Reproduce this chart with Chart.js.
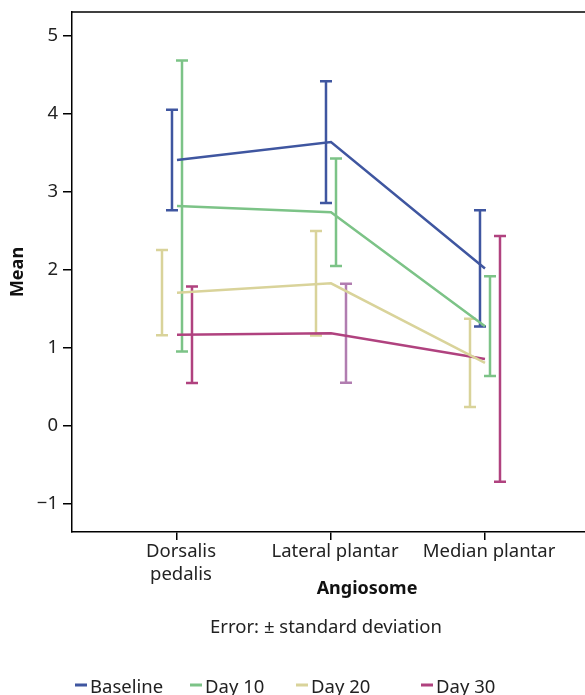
<!DOCTYPE html>
<html lang="en">
<head>
  <meta charset="UTF-8">
  <title>Mean by angiosome</title>
  <script src="https://cdn.jsdelivr.net/npm/chart.js"></script>
  <style>
    body { margin: 0; background: #fff; }
    #wrap { position: relative; width: 585px; height: 695px; overflow: hidden; font-family: "Noto Sans", sans-serif; color: #222; }
    #grafico { position: absolute; left: 0; top: 0; }
    #nota { position: absolute; left: 326px; top: 625px; transform: translate(-50%, -50%); font-size: 18.5px; white-space: nowrap; }
    .leg { position: absolute; top: 685px; transform: translateY(-50%); font-size: 18.5px; white-space: nowrap; display: flex; align-items: center; }
    .leg span.mk { display: inline-block; width: 12px; height: 3px; margin-right: 3px; }
  </style>
</head>
<body>
  <div id="wrap">
    <!-- o quadro do grafico original passa da borda direita, por isso o canvas e mais largo -->
    <canvas id="grafico" width="662" height="695"></canvas>
    <div id="nota">Error: ± standard deviation</div>
  </div>

<script>
  // dados
  const categorias = [['Dorsalis', 'pedalis'], 'Lateral plantar', 'Median plantar'];
  const series = ['Baseline', 'Day 10', 'Day 20', 'Day 30'];
  const cores = ['#3f56a0', '#7cc387', '#d9d39a', '#b0427f'];

  const mediaBaseline = [3.41, 3.64, 2.02];
  const mediaDay10 = [2.82, 2.74, 1.28];
  const mediaDay20 = [1.71, 1.83, 0.81];
  const mediaDay30 = [1.17, 1.19, 0.86];

  const dpBaseline = [0.645, 0.78, 0.745];
  const dpDay10 = [1.865, 0.69, 0.64];
  const dpDay20 = [0.545, 0.67, 0.565];
  const dpDay30 = [0.62, 0.635, 1.575];

  const yTicks = [-1, 0, 1, 2, 3, 4, 5];

  const medias = [mediaBaseline, mediaDay10, mediaDay20, mediaDay30];
  const desvios = [dpBaseline, dpDay10, dpDay20, dpDay30];

  // no original a barra do Day 30 em Lateral plantar sai mais clara
  const corBarraEspecial = { serie: 3, cat: 1, cor: '#b17db0' };

  // deslocamento horizontal das barras de erro (em unidades do eixo x)
  const deslocBarras = [-0.0325, 0.0325, -0.0974, 0.0974];
  const legendaX = [75, 190, 296, 421];

  const datasets = series.map((nome, i) => ({
    label: nome,
    data: medias[i].map((v, j) => ({ x: j + 1, y: v })),
    borderColor: cores[i],
    backgroundColor: cores[i],
    borderWidth: 2.5,
    pointRadius: 0,
    showLine: true,
    tension: 0,
    fill: false
  }));

  const barrasErro = {
    id: 'barrasErro',
    beforeDatasetsDraw(chart) {
      const ctx = chart.ctx;
      const xs = chart.scales.x;
      const ys = chart.scales.y;
      ctx.save();
      ctx.lineWidth = 2.5;
      for (let i = 0; i < series.length; i++) {
        for (let j = 0; j < categorias.length; j++) {
          const especial = corBarraEspecial.serie === i && corBarraEspecial.cat === j;
          ctx.strokeStyle = especial ? corBarraEspecial.cor : cores[i];
          const px = xs.getPixelForValue(j + 1 + deslocBarras[i]);
          const topo = ys.getPixelForValue(medias[i][j] + desvios[i][j]);
          const base = ys.getPixelForValue(medias[i][j] - desvios[i][j]);
          ctx.beginPath();
          ctx.moveTo(px, topo);
          ctx.lineTo(px, base);
          ctx.moveTo(px - 6, topo);
          ctx.lineTo(px + 6, topo);
          ctx.moveTo(px - 6, base);
          ctx.lineTo(px + 6, base);
          ctx.stroke();
        }
      }
      ctx.restore();
    },
    afterDraw(chart) {
      // linha superior da moldura
      const ctx = chart.ctx;
      const a = chart.chartArea;
      ctx.save();
      ctx.strokeStyle = '#000';
      ctx.lineWidth = 1.5;
      ctx.beginPath();
      ctx.moveTo(a.left, a.top);
      ctx.lineTo(a.right, a.top);
      ctx.stroke();
      ctx.restore();
    }
  };

  Chart.defaults.font.family = '"Noto Sans", sans-serif';
  Chart.defaults.color = '#222';

  const grafico = new Chart(document.getElementById('grafico').getContext('2d'), {
    type: 'scatter',
    data: { datasets: datasets },
    options: {
      responsive: false,
      animation: false,
      layout: { padding: { top: 12, right: 0, bottom: 95, left: 0 } },
      plugins: {
        legend: { display: false },
        tooltip: { enabled: false }
      },
      scales: {
        x: {
          type: 'linear',
          min: 0.3182,
          max: 4.1494,
          afterBuildTicks: s => { s.ticks = categorias.map((c, j) => ({ value: j + 1 })); },
          afterFit: s => { s.height = 68; s.paddingLeft = 0; s.paddingRight = 0; },
          ticks: {
            font: { size: 18.5 },
            padding: 1,
            labelOffset: 4,
            maxRotation: 0,
            autoSkip: false,
            callback: (v) => categorias[Math.round(v) - 1]
          },
          grid: { drawOnChartArea: false, color: '#000', tickLength: 8, lineWidth: 1.5 },
          border: { display: true, color: '#000', width: 1.5 },
          title: { display: true, text: 'Angiosome', font: { size: 18, weight: 'bold' }, padding: 0, color: '#111' }
        },
        y: {
          min: -1.359,
          max: 5.308,
          afterBuildTicks: s => { s.ticks = yTicks.map(v => ({ value: v })); },
          afterFit: s => { s.width = 72; s.paddingTop = 0; s.paddingBottom = 0; },
          ticks: {
            font: { size: 18.5 },
            padding: 5,
            callback: v => (v < 0 ? '\u2212' + Math.abs(v) : String(v))
          },
          grid: { drawOnChartArea: false, color: '#000', tickLength: 9, lineWidth: 1.5 },
          border: { display: true, color: '#000', width: 1.5 },
          title: { display: true, text: 'Mean', font: { size: 18, weight: 'bold' }, padding: { top: 7, bottom: 0 }, color: '#111' }
        }
      }
    },
    plugins: [barrasErro]
  });

  // legenda embaixo
  const wrap = document.getElementById('wrap');
  series.forEach((nome, i) => {
    const item = document.createElement('div');
    item.className = 'leg';
    item.style.left = legendaX[i] + 'px';
    const mk = document.createElement('span');
    mk.className = 'mk';
    mk.style.background = cores[i];
    item.appendChild(mk);
    item.appendChild(document.createTextNode(nome));
    wrap.appendChild(item);
  });
</script>
</body>
</html>
